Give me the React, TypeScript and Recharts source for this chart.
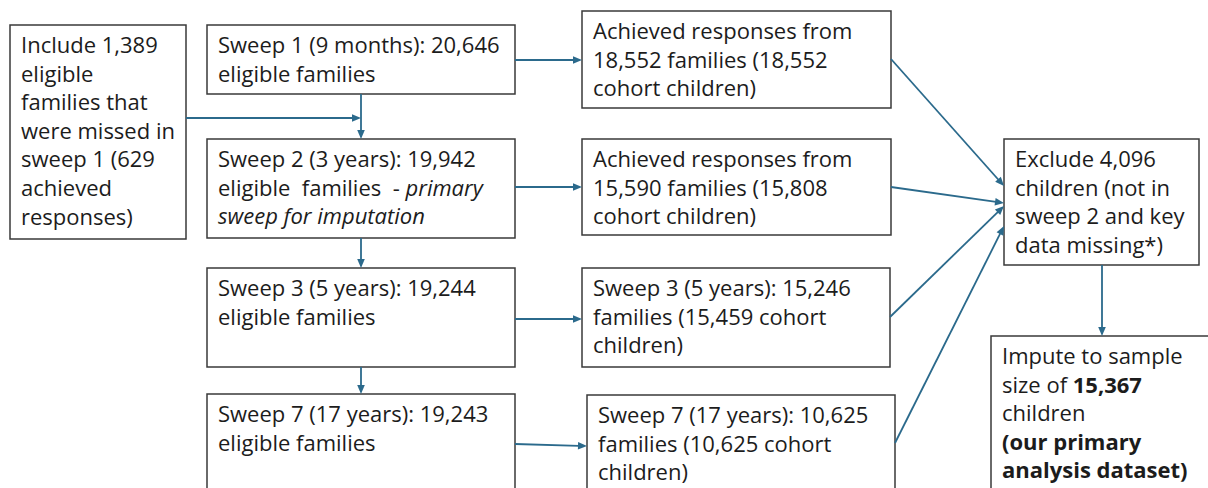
import React from "react";
import { ComposedChart, XAxis, YAxis, ReferenceArea, ReferenceLine } from "recharts";

// box texts; _x_ = italic, ~x~ = bold
const includeLines = [
  "Include 1,389",
  "eligible",
  "families that",
  "were missed in",
  "sweep 1 (629",
  "achieved",
  "responses)",
];
const sweep1Lines = ["Sweep 1 (9 months): 20,646", "eligible families"];
const sweep2Lines = [
  "Sweep 2 (3 years): 19,942",
  "eligible  families  - _primary_",
  "_sweep for imputation_",
];
const sweep3Lines = ["Sweep 3 (5 years): 19,244", "eligible families"];
const sweep7Lines = ["Sweep 7 (17 years): 19,243", "eligible families"];
const achieved1Lines = [
  "Achieved responses from",
  "18,552 families (18,552",
  "cohort children)",
];
const achieved2Lines = [
  "Achieved responses from",
  "15,590 families (15,808",
  "cohort children)",
];
const achieved3Lines = [
  "Sweep 3 (5 years): 15,246",
  "families (15,459 cohort",
  "children)",
];
const achieved7Lines = [
  "Sweep 7 (17 years): 10,625",
  "families (10,625 cohort",
  "children)",
];
const excludeLines = [
  "Exclude 4,096",
  "children (not in",
  "sweep 2 and key",
  "data missing*)",
];
const imputeLines = [
  "Impute to sample",
  "size of ~15,367~",
  "children",
  "~(our primary~",
  "~analysis dataset)~",
];

const W = 1208;
const H = 488;
const ARROW = "#2b6a8c";
const BORDER = "#3a3a3a";
const FONT = "'Open Sans', sans-serif";

// layout of boxes, in page units
const boxes = [
  { id: "include", x1: 10, y1: 25, x2: 186, y2: 239, lines: includeLines },
  { id: "s1", x1: 207, y1: 25, x2: 515, y2: 94, lines: sweep1Lines },
  { id: "s2", x1: 207, y1: 139, x2: 515, y2: 238, lines: sweep2Lines },
  { id: "s3", x1: 207, y1: 268, x2: 515, y2: 367, lines: sweep3Lines },
  { id: "s7", x1: 207, y1: 394, x2: 515, y2: 500, lines: sweep7Lines },
  { id: "a1", x1: 582, y1: 11, x2: 891, y2: 108, lines: achieved1Lines },
  { id: "a2", x1: 582, y1: 139, x2: 891, y2: 235, lines: achieved2Lines },
  { id: "a3", x1: 582, y1: 268, x2: 890, y2: 367, lines: achieved3Lines },
  { id: "a7", x1: 587, y1: 395, x2: 895, y2: 500, lines: achieved7Lines },
  { id: "excl", x1: 1004, y1: 139, x2: 1199, y2: 265, lines: excludeLines },
  { id: "imp", x1: 991, y1: 336, x2: 1220, y2: 500, lines: imputeLines },
];

const arrows = [
  { from: [186, 118], to: [361, 118] },
  { from: [515, 60], to: [582, 60] },
  { from: [361, 94], to: [361, 139] },
  { from: [515, 187], to: [582, 187] },
  { from: [361, 238], to: [361, 268] },
  { from: [515, 319], to: [582, 319] },
  { from: [361, 367], to: [361, 394] },
  { from: [515, 444], to: [587, 446] },
  { from: [891, 59], to: [1004, 186] },
  { from: [891, 187], to: [1004, 203] },
  { from: [890, 317], to: [1004, 206] },
  { from: [895, 443], to: [1004, 226] },
  { from: [1102, 265], to: [1102, 336] },
];

function parts(line: string) {
  const out: { t: string; b: boolean; i: boolean }[] = [];
  const re = /(_[^_]+_|~[^~]+~)/g;
  let last = 0;
  let m;
  while ((m = re.exec(line))) {
    if (m.index > last) out.push({ t: line.slice(last, m.index), b: false, i: false });
    const s = m[0];
    out.push({ t: s.slice(1, -1), b: s[0] === "~", i: s[0] === "_" });
    last = m.index + s.length;
  }
  if (last < line.length) out.push({ t: line.slice(last), b: false, i: false });
  return out;
}

function BoxText(props: any) {
  const { viewBox, lines } = props;
  if (!viewBox) return null;
  const x = viewBox.x + 11;
  const y0 = viewBox.y + 28;
  return (
    <text
      fontFamily={FONT}
      fontSize={22}
      fill="#1c1c1c"
      style={{ whiteSpace: "pre" }}
    >
      {lines.map((ln: string, k: number) => (
        <tspan key={k} x={x} y={y0 + k * 28.6}>
          {parts(ln).map((p, j) => (
            <tspan
              key={j}
              fontWeight={p.b ? 700 : 400}
              fontStyle={p.i ? "italic" : "normal"}
            >
              {p.t}
            </tspan>
          ))}
        </tspan>
      ))}
    </text>
  );
}

function Arrow(props: any) {
  const { x1, y1, x2, y2 } = props;
  if ([x1, y1, x2, y2].some((v) => v == null || isNaN(v))) return null;
  const dx = x2 - x1;
  const dy = y2 - y1;
  const len = Math.sqrt(dx * dx + dy * dy) || 1;
  const ux = dx / len;
  const uy = dy / len;
  const hl = 9;
  const hw = 3.8;
  const bx = x2 - ux * hl;
  const by = y2 - uy * hl;
  const pts = [
    [x2, y2],
    [bx - uy * hw, by + ux * hw],
    [bx + uy * hw, by - ux * hw],
  ]
    .map((p) => p.join(","))
    .join(" ");
  return (
    <g>
      <line x1={x1} y1={y1} x2={bx + ux} y2={by + uy} stroke={ARROW} strokeWidth={1.8} />
      <polygon points={pts} fill={ARROW} />
    </g>
  );
}

export default function App() {
  return (
    <div style={{ position: "fixed", left: 0, top: 0, background: "#fff" }}>
      <ComposedChart
        width={W}
        height={H}
        data={[]}
        margin={{ top: 0, right: 0, bottom: 0, left: 0 }}
      >
        <XAxis type="number" dataKey="x" domain={[0, W]} allowDataOverflow hide />
        <YAxis type="number" dataKey="y" domain={[0, H]} allowDataOverflow reversed hide />
        {boxes.map((b) => (
          <ReferenceArea
            key={b.id}
            x1={b.x1}
            x2={b.x2}
            y1={b.y1}
            y2={b.y2}
            ifOverflow="visible"
            fill="#ffffff"
            fillOpacity={1}
            stroke={BORDER}
            strokeWidth={1.5}
            label={<BoxText lines={b.lines} />}
          />
        ))}
        {arrows.map((a, i) => (
          <ReferenceLine
            key={i}
            segment={[
              { x: a.from[0], y: a.from[1] },
              { x: a.to[0], y: a.to[1] },
            ]}
            ifOverflow="visible"
            stroke={ARROW}
            shape={(p: any) => <Arrow {...p} />}
          />
        ))}
      </ComposedChart>
    </div>
  );
}
